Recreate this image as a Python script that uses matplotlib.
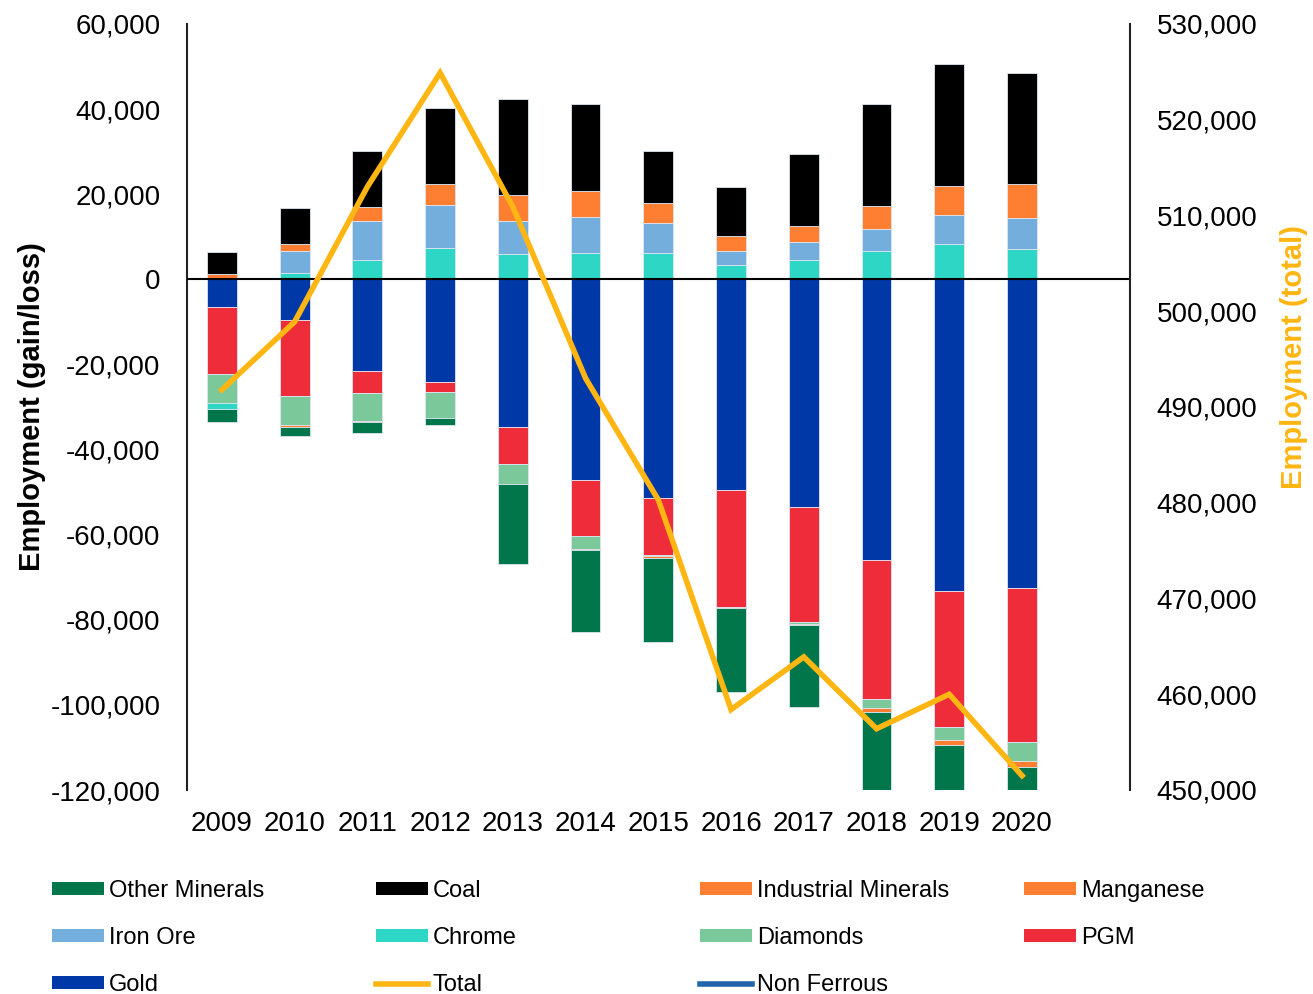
import numpy as np
import matplotlib
matplotlib.use("Agg")
import matplotlib.pyplot as plt
from matplotlib.patches import Patch
from matplotlib.lines import Line2D
from matplotlib.ticker import FuncFormatter

plt.rcParams['font.family'] = ['Liberation Sans', 'DejaVu Sans']

years = ['2009', '2010', '2011', '2012', '2013', '2014', '2015', '2016',
         '2017', '2018', '2019', '2020']

# employment gain/loss per commodity (stacking order from zero outwards)
gold = [-6600, -9500, -21600, -24200, -34600, -47200, -51300, -49600,
        -53400, -66000, -73300, -72500]
pgm = [-15600, -17800, -5200, -2200, -8700, -13100, -13400, -27500,
       -27100, -32700, -31800, -36200]
diamonds = [-6900, -7000, -6500, -6200, -4900, -3100, -300, 0,
            -400, -2100, -3200, -4600]
chrome = [-1400, 1600, 4500, 7400, 6000, 6300, 6100, 3300,
          4500, 6600, 8400, 7100]
iron_ore = [0, 5000, 9100, 10000, 7700, 8400, 7200, 3400,
            4300, 5300, 6600, 7400]
manganese = [1200, 1800, 3500, 5100, 6100, 6000, 4600, 3400,
             3750, 5300, 7000, 8000]
industrial = [0, -300, -300, 0, 0, -300, -500, -200,
              -400, -800, -1200, -1400]
coal = [5300, 8400, 13000, 17700, 22600, 20600, 12300, 11700,
        16900, 24100, 28700, 25900]
other_minerals = [-3100, -2300, -2600, -1600, -18600, -19100, -19700, -19600,
                  -19200, -21000, -13000, -8000]

total = [491800, 498900, 513000, 524900, 510900, 493000, 480300, 458400,
         463900, 456400, 460000, 451500]

series = [
    ('Gold', gold, '#0038A8'),
    ('PGM', pgm, '#EE2C3A'),
    ('Diamonds', diamonds, '#7BC89A'),
    ('Chrome', chrome, '#2ED6C6'),
    ('Iron Ore', iron_ore, '#74AEDD'),
    ('Manganese', manganese, '#FF7F32'),
    ('Industrial Minerals', industrial, '#FF7F32'),
    ('Coal', coal, '#000000'),
    ('Other Minerals', other_minerals, '#00764A'),
]
total_color = '#FFB612'
nonferrous_color = '#2166AC'

fig = plt.figure(figsize=(13.13, 9.94), dpi=100)
ax = fig.add_axes([187/1313, 1 - 790/994, (1130-187)/1313, (790-24)/994])

x = np.arange(len(years))
pos_base = np.zeros(len(years))
neg_base = np.zeros(len(years))
for name, vals, col in series:
    v = np.array(vals, dtype=float)
    bottom = np.where(v >= 0, pos_base, neg_base)
    ax.bar(x, v, 0.41, bottom=bottom, color=col, edgecolor='#dde6f0',
           linewidth=0.6, zorder=2)
    pos_base += np.where(v > 0, v, 0)
    neg_base += np.where(v < 0, v, 0)

ax.axhline(0, color='black', lw=1.5, zorder=3)
ax.set_xlim(-0.48, 12.485)
ax.set_ylim(-120000, 60000)
ax.set_yticks(np.arange(-120000, 60001, 20000))
ax.yaxis.set_major_formatter(FuncFormatter(lambda v, p: f'{v:,.0f}'))
ax.set_xticks(x)
ax.set_xticklabels(years)
ax.tick_params(axis='both', length=0, labelsize=20)
ax.tick_params(axis='x', pad=15)
ax.tick_params(axis='y', pad=19)
for s in ['top', 'bottom', 'right']:
    ax.spines[s].set_visible(False)
ax.spines['left'].set_color('#222222')
ax.spines['left'].set_linewidth(1.5)
ax.set_ylabel('Employment (gain/loss)', fontsize=21, fontweight='bold',
              labelpad=3)

ax2 = ax.twinx()
ax2.plot(x, total, color=total_color, lw=4, zorder=5, solid_joinstyle='miter')
ax2.set_ylim(450000, 530000)
ax2.set_yticks(np.arange(450000, 530001, 10000))
ax2.yaxis.set_major_formatter(FuncFormatter(lambda v, p: f'{v:,.0f}'))
ax2.tick_params(axis='y', length=0, labelsize=20, pad=19)
for s in ['top', 'bottom', 'left']:
    ax2.spines[s].set_visible(False)
ax2.spines['right'].set_color('#222222')
ax2.spines['right'].set_linewidth(1.5)
ax2.set_ylabel('Employment (total)', fontsize=21, fontweight='bold',
               color=total_color)
ax2.yaxis.set_label_coords(1.159, 0.565)

colors = {name: col for name, vals, col in series}


def box(name):
    return Patch(facecolor=colors[name], edgecolor='none', label=name)


columns = [
    [box('Other Minerals'), box('Iron Ore'), box('Gold')],
    [box('Coal'), box('Chrome'),
     Line2D([], [], color=total_color, lw=4, label='Total')],
    [box('Industrial Minerals'), box('Diamonds'),
     Line2D([], [], color=nonferrous_color, lw=4, label='Non Ferrous')],
    [box('Manganese'), box('PGM')],
]
col_x = [52, 376, 700, 1024]
for hx, handles in zip(col_x, columns):
    fig.legend(handles=handles, loc='upper left',
               bbox_to_anchor=(hx/1313, 1 - 880/994),
               frameon=False, fontsize=17, handlelength=2.2,
               handleheight=0.45, handletextpad=0.2, labelspacing=1.06,
               borderaxespad=0, borderpad=0)

fig.savefig('out.png', dpi=100)
